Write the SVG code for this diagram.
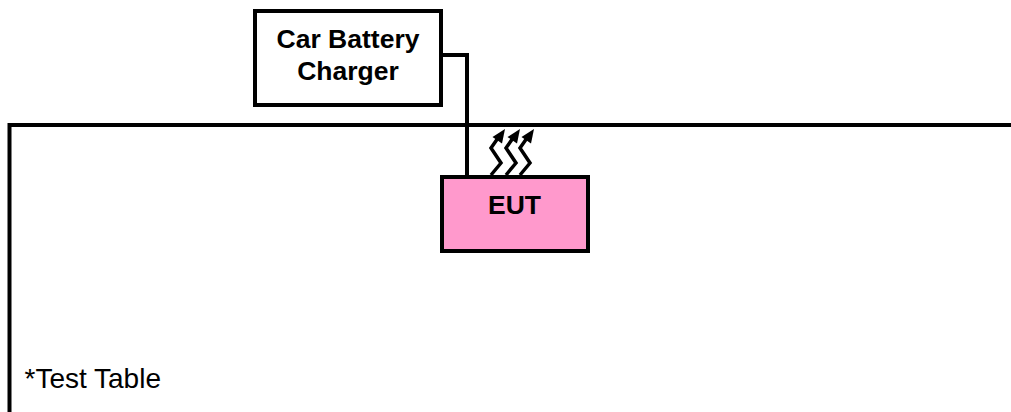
<svg xmlns="http://www.w3.org/2000/svg" width="1011" height="412" viewBox="0 0 1011 412">
<defs>
<style>
.l{fill:none;stroke:#000;stroke-width:4}
.w{fill:none;stroke:#000;stroke-width:3.5}
.h{fill:#000}
text{font-family:"Liberation Sans",Arial,sans-serif;fill:#000}
.b{font-weight:bold;font-size:26.500px;text-anchor:middle}
</style>
</defs>
<rect width="1011" height="412" fill="#fff"/>
<g id="table">
<path class="l" d="M9.500 412V125H1011"/>
<text x="24.500" y="388" font-size="28">*Test Table</text>
</g>
<g id="connectors">
<path class="l" d="M442 55H467V177"/>
<path class="w" d="M491 175L501 163L491 148L498 138"/>
<path class="w" d="M506 175L516 163L506 148L513 138"/>
<path class="w" d="M520 175L530 163L520 148L527 138"/>
<path class="h" d="M505 129L502 143.500L492.500 137Z"/>
<path class="h" d="M520 129L517 143.500L507.500 137Z"/>
<path class="h" d="M534 129L531 143.500L521.500 137Z"/>
</g>
<g id="charger">
<rect class="l" x="255" y="11" width="186" height="94" fill="#fff"/>
<text class="b" x="348" y="48">Car Battery</text>
<text class="b" x="348" y="80">Charger</text>
</g>
<g id="eut">
<rect x="442" y="177" width="146" height="74" fill="#ff99cc" stroke="#000" stroke-width="4"/>
<text class="b" x="514.500" y="213.500">EUT</text>
</g>
</svg>
